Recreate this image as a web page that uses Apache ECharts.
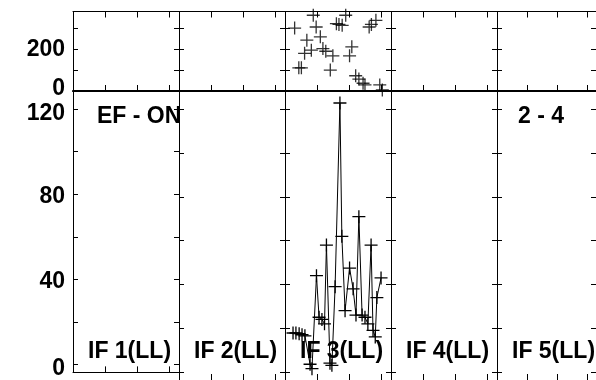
<!DOCTYPE html>
<html>
<head>
<meta charset="utf-8">
<title>EF - ON</title>
<script src="https://cdn.jsdelivr.net/npm/echarts@6/dist/echarts.min.js"></script>
<style>
html, body { margin: 0; padding: 0; background: #fff; }
#chart { width: 596px; height: 380px; }
</style>
</head>
<body>
<div id="chart"></div>
<script>
// sections along the x axis
var sectionNames = ['IF 1(LL)', 'IF 2(LL)', 'IF 3(LL)', 'IF 4(LL)', 'IF 5(LL)'];
var dataSection = 2; // only IF 3 has data
var panelTitle = 'EF - ON';
var panelNote = '2 - 4';

// upper panel: scatter points (x inside the section, value)
var topX = [0.88, 1.89, 0.30, 0.97, 1.60, 1.68, 1.78, 2.62, 2.69, 2.83, 1.10, 0.68,
	1.18, 1.27, 0.61, 0.82, 1.49, 2.08, 2.01, 0.43, 0.51, 1.41, 2.20, 2.30, 2.43, 2.49, 2.95, 3.03];
var topY = [362, 362, 301, 306, 322, 318, 314, 306, 318, 338, 259, 243,
	203, 190, 180, 195, 168, 211, 168, 111, 111, 100, 73, 57, 37, 29, 29, 5];

// lower panel: line with markers
var lineX = [0.25, 0.34, 0.44, 0.53, 0.62, 0.78, 0.84, 0.98, 1.06, 1.15, 1.23, 1.29, 1.40, 1.46, 1.56,
	1.71, 1.77, 1.87, 2.01, 2.12, 2.21, 2.30, 2.40, 2.49, 2.58, 2.68, 2.74, 2.81, 2.86, 2.99];
var lineY = [17.8, 17.8, 17.5, 17, 16.5, 3.5, 1.5, 44, 25, 24, 22, 58, 4, 3, 39,
	123, 62, 28, 47.5, 38, 26, 71, 26, 25, 22, 58, 19, 16, 34, 43];

// ticks
var xTicks = [1, 2, 3];
var topTicks = [0, 100, 200, 300];
var topLabels = [0, 200];
var bottomTicks = [0, 20, 40, 60, 80, 100, 120];
var bottomLabels = [0, 40, 80, 120];

var FONT = '"Liberation Sans", Arial, Helvetica, sans-serif';
var PLUS = 'path://M5.4,0H6.6V5.4H12V6.6H6.6V12H5.4V6.6H0V5.4H5.4Z';

var myChart = echarts.init(document.getElementById('chart'));

var grids = [], xAxes = [], yAxes = [], graphics = [];
var secLeft = 73, secWidth = 106;
var panels = [
	{top: 11.5, height: 79.5, min: 0, max: 380, ticks: topTicks, labels: topLabels, topTicks: true, bottomWidth: 2},
	{top: 91, height: 289, min: -3.7, max: 128.5, ticks: bottomTicks, labels: bottomLabels, topTicks: false, bottomWidth: 1}
];
var labelStyle = {fontSize: 23, fontWeight: 'bold', fontFamily: FONT, color: '#000'};

panels.forEach(function(p, pi) {
	sectionNames.forEach(function(name, s) {
		var gi = grids.length;
		grids.push({left: secLeft + secWidth * s, width: secWidth, top: p.top, height: p.height});
		// bottom and top x axes
		['bottom', 'top'].forEach(function(pos) {
			xAxes.push({
				gridIndex: gi, type: 'value', min: 0, max: 3.3, position: pos,
				axisLine: {show: true, onZero: false, lineStyle: {color: '#000', width: pos == 'bottom' ? p.bottomWidth : 1}},
				axisTick: {show: pos == 'bottom' || p.topTicks, inside: true, length: 6, customValues: xTicks, lineStyle: {color: '#000'}},
				axisLabel: {show: false},
				splitLine: {show: false}
			});
		});
		// left and right y axes
		['left', 'right'].forEach(function(pos) {
			yAxes.push({
				gridIndex: gi, type: 'value', min: p.min, max: p.max, position: pos,
				axisLine: {show: true, onZero: false, lineStyle: {color: '#000'}},
				axisTick: {show: true, inside: true, length: 5, customValues: p.ticks, lineStyle: {color: '#000'}},
				axisLabel: {
					show: s == 0 && pos == 'left', customValues: p.labels, margin: 8,
					color: '#000', fontSize: 23, fontWeight: 'bold', fontFamily: FONT,
					// nudge labels a little, the two at the panel border apart
					formatter: function(v) {
						if (pi == 0 && v == 0) return '{up|' + v + '}';
						if (pi == 1 && v == 120) return '{down|' + v + '}';
						if (pi == 1 && v == 0) return '{low|' + v + '}';
						if (pi == 1) return '{mid|' + v + '}';
						return v + '';
					},
					rich: {
						up: Object.assign({padding: [0, 0, 4, 0]}, labelStyle),
						down: Object.assign({padding: [9, 0, 0, 0]}, labelStyle),
						mid: Object.assign({padding: [5, 0, 0, 0]}, labelStyle),
						low: Object.assign({padding: [8, 0, 0, 0]}, labelStyle)
					}
				},
				splitLine: {show: false}
			});
		});
		if (pi == 1) {
			graphics.push({
				type: 'text', x: secLeft + secWidth * s + 15, y: 352, z: 100,
				style: {text: name, font: 'bold 23px ' + FONT, fill: '#000', verticalAlign: 'middle'}
			});
		}
	});
});

graphics.push({type: 'text', x: 97, y: 117, z: 100,
	style: {text: panelTitle, font: 'bold 23px ' + FONT, fill: '#000', verticalAlign: 'middle'}});
graphics.push({type: 'text', x: 518, y: 117, z: 100,
	style: {text: panelNote, font: 'bold 23px ' + FONT, fill: '#000', verticalAlign: 'middle'}});

var topIdx = dataSection, lowIdx = 5 + dataSection;
var option = {
	animation: false,
	grid: grids,
	xAxis: xAxes,
	yAxis: yAxes,
	graphic: graphics,
	series: [
		{
			type: 'scatter',
			xAxisIndex: topIdx * 2, yAxisIndex: topIdx * 2,
			data: topX.map(function(x, i) { return [x, topY[i]]; }),
			symbol: PLUS, symbolSize: 13,
			itemStyle: {color: '#000'},
			clip: false
		},
		{
			type: 'line',
			xAxisIndex: lowIdx * 2, yAxisIndex: lowIdx * 2,
			data: lineX.map(function(x, i) { return [x, lineY[i]]; }),
			symbol: PLUS, symbolSize: 13, showSymbol: true,
			itemStyle: {color: '#000'},
			lineStyle: {color: '#000', width: 1},
			clip: false
		}
	]
};
myChart.setOption(option);
</script>
</body>
</html>
